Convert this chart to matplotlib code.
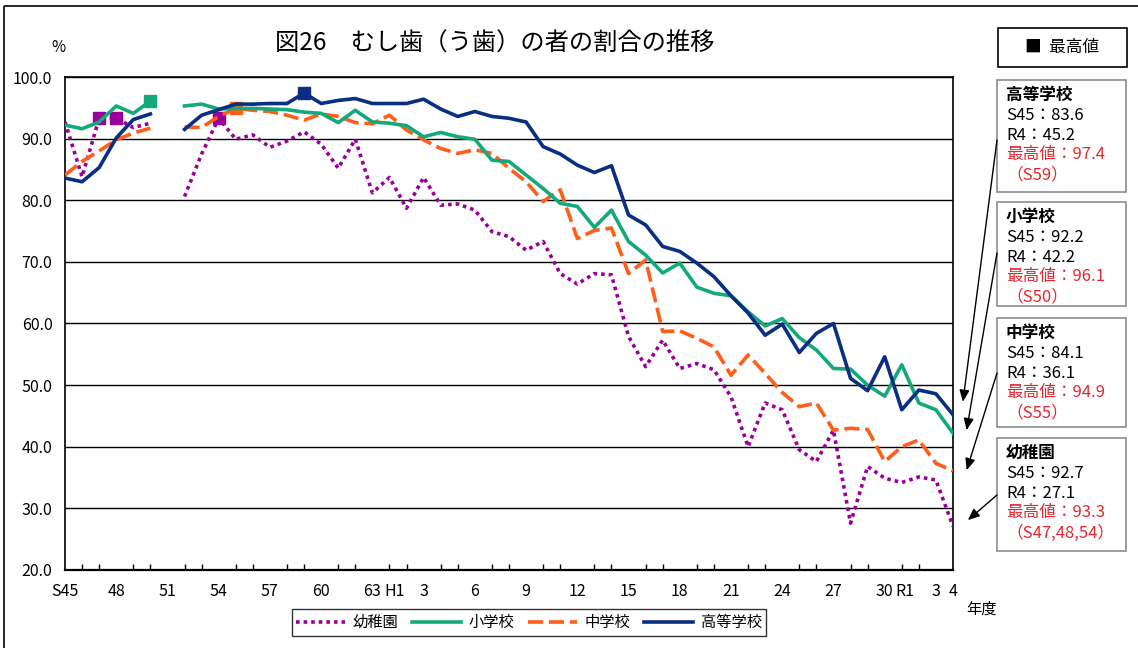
import numpy as np
import matplotlib
matplotlib.use('Agg')
import matplotlib.pyplot as plt
from matplotlib.patches import Rectangle
from matplotlib.lines import Line2D

plt.rcParams['font.family'] = ['Noto Sans CJK JP', 'DejaVu Sans']

nan = np.nan

# ---- data (index 0 = S45 ... index 52 = R4) ----
n_years = 53
kinder = [92.7, 83.8, 93.3, 93.3, 91.8, 92.5, nan, 80.6, 87.5, 93.3,
          89.9, 90.6, 88.6, 89.6, 91.1, 89.1, 85.2, 89.9, 81.2, 83.7,
          78.7, 83.7, 79.2, 79.4, 78.4, 74.9, 74.1, 71.9, 73.3, 68.1,
          66.4, 68.1, 67.9, 57.9, 53.0, 57.3, 52.7, 53.5, 52.5, 48.1,
          40.0, 47.1, 46.0, 39.5, 37.6, 42.7, 27.6, 36.8, 34.9, 34.2,
          35.1, 34.6, 27.1]
elem = [92.2, 91.6, 92.7, 95.3, 94.1, 96.1, nan, 95.3, 95.6, 94.8,
        94.9, 94.9, 94.8, 94.7, 94.3, 94.1, 92.6, 94.6, 92.7, 92.5,
        92.1, 90.3, 91.0, 90.3, 89.9, 86.5, 86.3, 84.1, 81.9, 79.5,
        79.0, 75.6, 78.4, 73.3, 71.1, 68.2, 69.8, 65.9, 64.9, 64.5,
        61.9, 59.6, 60.8, 57.7, 55.7, 52.7, 52.6, 50.0, 48.2, 53.3,
        47.1, 46.0, 42.2]
middle = [84.1, 86.3, 88.0, 89.8, 90.9, 91.7, nan, 91.9, 91.8, 93.6,
          94.9, 94.6, 94.4, 93.8, 93.0, 94.0, 93.6, 92.6, 92.4, 93.8,
          91.4, 89.8, 88.4, 87.6, 88.2, 87.6, 85.2, 83.0, 79.8, 81.7,
          73.8, 75.1, 75.5, 68.1, 70.3, 58.7, 58.8, 57.6, 56.2, 51.6,
          54.9, 51.9, 48.8, 46.5, 47.1, 42.7, 43.0, 42.8, 37.6, 40.0,
          41.1, 37.3, 36.1]
high = [83.6, 83.0, 85.3, 90.1, 93.1, 94.0, nan, 91.5, 93.8, 94.7,
        95.6, 95.6, 95.7, 95.7, 97.4, 95.7, 96.2, 96.5, 95.7, 95.7,
        95.7, 96.4, 94.8, 93.6, 94.4, 93.6, 93.3, 92.7, 88.7, 87.5,
        85.7, 84.5, 85.6, 77.6, 76.0, 72.5, 71.7, 69.8, 67.6, 64.5,
        61.7, 58.1, 59.9, 55.3, 58.4, 60.0, 51.1, 49.1, 54.6, 46.0,
        49.2, 48.6, 45.2]

# indices of the maximum-value markers
kinder_max_idx = [2, 3, 9]
elem_max_idx = [5]
middle_max_idx = [10]
high_max_idx = [14]

series_names = ['幼稚園', '小学校', '中学校', '高等学校']
max_year_labels = {'高等学校': 'S59', '小学校': 'S50', '中学校': 'S55',
                   '幼稚園': 'S47,48,54'}

tick_pos = [0, 3, 6, 9, 12, 15, 18, 19.3, 21, 24, 27, 30, 33, 36, 39, 42,
            45, 48, 49.2, 51, 52]
tick_lab = ['S45', '48', '51', '54', '57', '60', '63', 'H1', '3', '6', '9',
            '12', '15', '18', '21', '24', '27', '30', 'R1', '3', '4']
y_ticks = [20, 30, 40, 50, 60, 70, 80, 90, 100]

PURPLE = '#990099'
GREEN = '#14A97B'
ORANGE = '#FF5E1A'
NAVY = '#0A2F82'
RED = '#E0282E'

W, H = 1138, 648
fig = plt.figure(figsize=(W / 100, H / 100), dpi=100)
fig.patch.set_facecolor('white')

ax = fig.add_axes([65 / W, 1 - 570 / H, (953 - 65) / W, (570 - 77) / H])
x = np.arange(n_years)

lw = 2.6
ax.plot(x, kinder, color=PURPLE, lw=lw, linestyle=(0, (1.0, 1.1)),
        dash_capstyle='butt', zorder=3)
ax.plot(x, middle, color=ORANGE, lw=lw, linestyle=(0, (4.2, 1.6)),
        dash_capstyle='butt', zorder=4)
ax.plot(x, elem, color=GREEN, lw=lw, zorder=5)
ax.plot(x, high, color=NAVY, lw=lw, zorder=6)

ms = 8
ax.plot(x[kinder_max_idx], np.array(kinder)[kinder_max_idx], 's',
        color=PURPLE, ms=ms, zorder=3)
ax.plot(x[middle_max_idx], np.array(middle)[middle_max_idx], 's',
        color=ORANGE, ms=ms, zorder=4)
ax.plot(x[elem_max_idx], np.array(elem)[elem_max_idx], 's',
        color=GREEN, ms=ms, zorder=5)
ax.plot(x[high_max_idx], np.array(high)[high_max_idx], 's',
        color=NAVY, ms=ms, zorder=6)

ax.set_xlim(0, n_years - 1)
ax.set_ylim(20, 100)
ax.set_yticks(y_ticks)
ax.set_yticklabels([f'{v:.1f}' for v in y_ticks], fontsize=11.5)
ax.tick_params(axis='y', length=0, pad=9)
ax.grid(axis='y', color='black', lw=1.0, zorder=1)
ax.set_axisbelow(True)

ax.set_xticks(x, minor=True)
ax.set_xticks(tick_pos)
ax.set_xticklabels(tick_lab, fontsize=11.5)
ax.tick_params(axis='x', which='major', length=0, pad=9)
ax.tick_params(axis='x', which='minor', direction='in', length=4, width=1,
               color='black')
for s in ax.spines.values():
    s.set_color('black')
    s.set_linewidth(1.2)
ax.spines['bottom'].set_linewidth(1.6)

# legend
handles = [
    Line2D([], [], color=PURPLE, lw=lw, linestyle=(0, (1.0, 1.1)),
           dash_capstyle='butt'),
    Line2D([], [], color=GREEN, lw=lw),
    Line2D([], [], color=ORANGE, lw=lw, linestyle=(0, (4.2, 1.6)),
           dash_capstyle='butt'),
    Line2D([], [], color=NAVY, lw=lw),
]
leg = fig.legend(handles, series_names, loc='center',
                 bbox_to_anchor=(529 / W, 1 - 622.5 / H), ncol=4,
                 frameon=True, fancybox=False, edgecolor='black',
                 fontsize=11, handlelength=3.2, columnspacing=0.9,
                 handletextpad=0.5, borderpad=0.3, borderaxespad=0)
leg.get_frame().set_linewidth(1.0)

# overlay in pixel coordinates
ov = fig.add_axes([0, 0, 1, 1])
ov.set_xlim(0, W)
ov.set_ylim(H, 0)
ov.axis('off')
ov.patch.set_alpha(0)

ov.add_patch(Rectangle((4, 6), W + 10, H + 10, fill=False,
                       edgecolor='black', lw=1.2))

ov.text(495, 44, '図26　むし歯（う歯）の者の割合の推移', ha='center',
        va='center', fontsize=17.5)
ov.text(58, 47, '%', ha='center', va='center', fontsize=11)
ov.text(982, 609, '年度', ha='center', va='center', fontsize=11)

# max legend box
ov.add_patch(Rectangle((998, 28), 129, 39, facecolor='white',
                       edgecolor='black', lw=1.2))
ov.text(1062, 47.5, '■  最高値', ha='center', va='center', fontsize=12)

# annotation boxes
data_map = {'高等学校': high, '小学校': elem, '中学校': middle,
            '幼稚園': kinder}
box_tops = {'高等学校': 80, '小学校': 202, '中学校': 318, '幼稚園': 438}
box_heights = {'高等学校': 112, '小学校': 104, '中学校': 109, '幼稚園': 113}
arrow_start = {'高等学校': 140, '小学校': 253, '中学校': 373, '幼稚園': 495}
arrow_tip_dx = {'高等学校': 0.58, '小学校': 0.8, '中学校': 0.8, '幼稚園': 0.87}
arrow_tip_dy = {'高等学校': 2.1, '小学校': 0.5, '中学校': 0.1, '幼稚園': 1.0}

for name in ['高等学校', '小学校', '中学校', '幼稚園']:
    vals = data_map[name]
    top = box_tops[name]
    ov.add_patch(Rectangle((997, top), 129, box_heights[name],
                           facecolor='white', edgecolor='#8c8c8c', lw=1.2))
    lines = [
        (name, 'black', 'bold'),
        (f'S45：{vals[0]:.1f}', 'black', 'normal'),
        (f'R4：{vals[-1]:.1f}', 'black', 'normal'),
        (f'最高値：{np.nanmax(vals):.1f}', RED, 'normal'),
        (f'（{max_year_labels[name]}）', RED, 'normal'),
    ]
    for k, (t, c, fw) in enumerate(lines):
        ov.text(1006, top + 15 + 20 * k, t, ha='left', va='center',
                fontsize=12, color=c, fontweight=fw)
    ov.annotate('', xy=(n_years - 1 + arrow_tip_dx[name],
                        vals[-1] + arrow_tip_dy[name]),
                xycoords=ax.transData,
                xytext=(997, arrow_start[name]), textcoords='data',
                arrowprops=dict(arrowstyle='-|>,head_length=0.7,head_width=0.3',
                                color='black', lw=1.0, shrinkA=0, shrinkB=0))

fig.savefig('out.png', dpi=100)
